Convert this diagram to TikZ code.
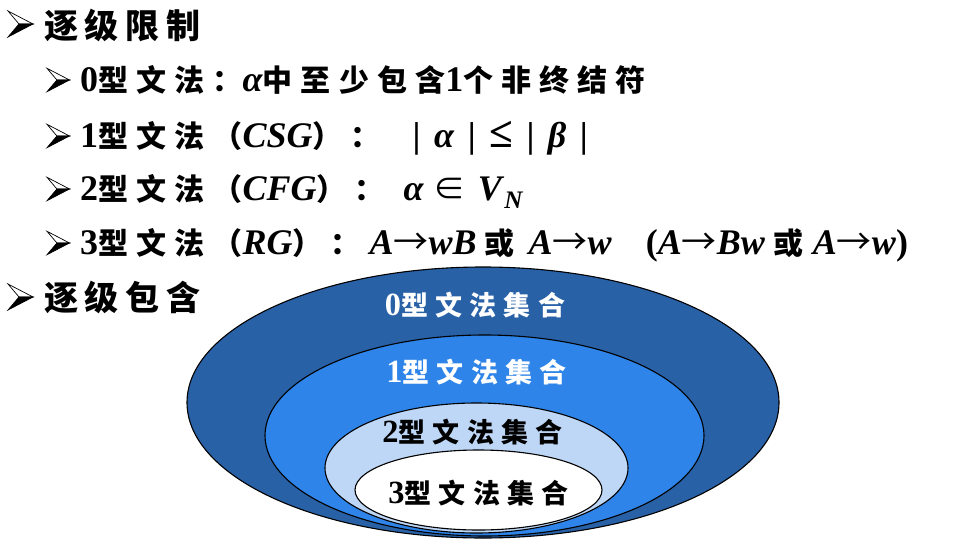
\documentclass[tikz,border=0pt]{standalone}
\usepackage{fontspec}
\setmainfont{Liberation Serif}[Scale=1.2]
\newfontfamily\cjk{Noto Sans CJK SC}[LetterSpace=27]
\newfontfamily\cjkhead{Noto Sans CJK SC}[LetterSpace=20]
\newfontfamily\symb{Noto Sans CJK SC}
\usepackage{tikz}
\usetikzlibrary{shapes.geometric,positioning}

\definecolor{setzero}{RGB}{41,97,167}
\definecolor{setone}{RGB}{46,132,232}
\definecolor{settwo}{RGB}{190,215,246}

\newcommand{\zh}[1]{{\cjk #1}}
\newcommand{\gap}{\hspace{13.5pt}}
\newcommand{\arr}{{\symb\mdseries\fontsize{35}{35}\selectfont →}}

\begin{document}
\begin{tikzpicture}[x=1pt, y=-1pt,
  head/.style={anchor=base west, inner sep=0pt, font=\fontsize{34}{40}\selectfont\bfseries\cjkhead},
  item/.style={anchor=base west, inner sep=0pt, font=\fontsize{30}{36}\selectfont\bfseries},
  set/.style={ellipse, draw=black, line width=1.1pt, inner sep=0pt},
  setlbl/.style={inner sep=0pt, font=\fontsize{27}{32}\selectfont\bfseries},
  arrowmark/.pic={
    \filldraw[fill=white, draw=black, line width=0.7pt] (0,-13) -- (25,0) -- (11,0) -- cycle;
    \filldraw[fill=black, draw=black, line width=0.7pt] (0,13) -- (25,0) -- (11,0) -- cycle;
  }
]
\useasboundingbox (0,0) rectangle (977,546);

% restrictions
\pic at (8,24) {arrowmark};
\node[head] (restrict) at (44,38) {逐级限制};

\pic[scale=0.9] at (47,80) {arrowmark};
\node[item] (type0) at (80,91) {0\zh{型文法：}\textit{α}\zh{中至少包含}1\zh{个非终结符}};
\pic[scale=0.9] at (47,136) {arrowmark};
\node[item] (type1) at (80,147) {1\zh{型文法（}\textit{CSG}\zh{）：}\hspace{32pt}|\gap\textit{α}\gap|\gap{\fontsize{36}{36}\selectfont ≤}\gap|\gap\textit{β}\gap|};
\pic[scale=0.9] at (47,189) {arrowmark};
\node[item] (type2) at (80,200) {2\zh{型文法（}\textit{CFG}\zh{）：}\hspace{19pt}\textit{α}\hspace{10pt}{\symb\mdseries\fontsize{32}{32}\selectfont ∈}\hspace{12pt}\textit{V}\raisebox{-8pt}{\fontsize{21}{21}\selectfont\textit{N}}};
\pic[scale=0.9] at (47,243) {arrowmark};
\node[item] (type3) at (80,254) {3\zh{型文法（}\textit{RG}\zh{）：}\hspace{9pt}\textit{A}\arr\textit{wB}\hspace{8pt}\zh{或}\hspace{14pt}\textit{A}\arr\textit{w}\hspace{34pt}(\textit{A}\arr\textit{Bw}\hspace{9pt}\zh{或}\hspace{9pt}\textit{A}\arr\textit{w})};

% containment
\pic at (8,297) {arrowmark};
\node[head] (contain) at (44,310) {逐级包含};

\node[set, fill=setzero, minimum width=592, minimum height=271] (g0) at (483,402.5) {};
\node[set, fill=setone, minimum width=439, minimum height=201] (g1) at (484.5,435.5) {};
\node[set, fill=settwo, minimum width=303, minimum height=130] (g2) at (476.5,468) {};
\node[set, fill=white, minimum width=247, minimum height=80] (g3) at (478.5,490) {};

\node[setlbl, text=white, below=25pt of g0.north, xshift=-8pt] (l0) {0\zh{型文法集合}};
\node[setlbl, text=white, below=24pt of g1.north, xshift=-8pt] (l1) {1\zh{型文法集合}};
\node[setlbl, below=16pt of g2.north, xshift=-4pt] (l2) {2\zh{型文法集合}};
\node[setlbl, below=30pt of g3.north] (l3) {3\zh{型文法集合}};

\end{tikzpicture}
\end{document}
